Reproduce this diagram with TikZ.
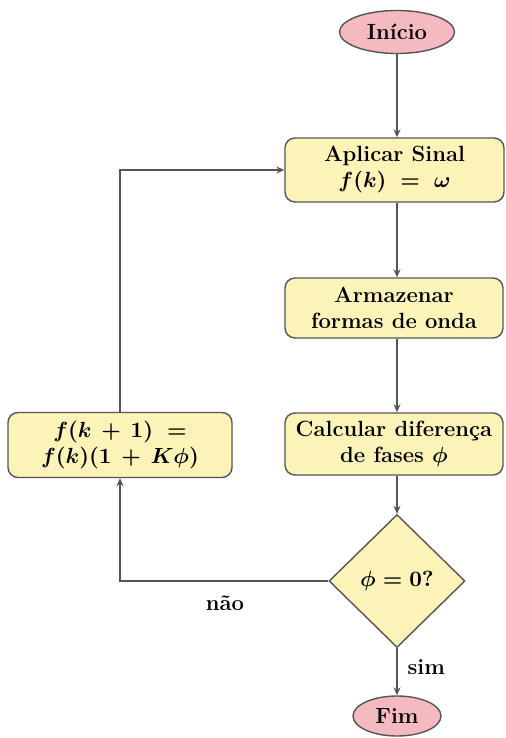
\documentclass[tikz,border=0pt]{standalone}
\usetikzlibrary{shapes.geometric,arrows.meta}
\definecolor{boxfill}{HTML}{FCF3B8}
\definecolor{termfill}{HTML}{F5B9C0}
\definecolor{edge}{HTML}{555555}
\begin{document}
\begin{tikzpicture}[x=0.5pt,y=-0.5pt,
  font=\fontsize{11}{13}\selectfont\bfseries\boldmath,
  procbox/.style={draw=edge, line width=0.7pt, fill=boxfill, rounded corners=5pt, align=center, inner sep=1pt},
  term/.style={draw=edge, line width=0.7pt, fill=termfill, ellipse, inner sep=0pt},
  decis/.style={draw=edge, line width=0.7pt, fill=boxfill, diamond, inner sep=0pt, minimum width=68pt, minimum height=66.5pt},
  conn/.style={draw=edge, line width=0.7pt, -{Stealth[length=4pt,width=3.5pt]}},
  lbl/.style={inner sep=0pt}]
\useasboundingbox (0,0) rectangle (505,738);
\node[term, minimum width=57.5pt, minimum height=21.5pt] (ini) at (397,32) {Início};
\node[procbox, minimum width=109.5pt, minimum height=32pt] (apl) at (394.5,170) {Aplicar Sinal\\$f(k)\;=\;\omega$};
\node[procbox, minimum width=109pt, minimum height=30pt] (arm) at (394,308) {Armazenar\\formas de onda};
\node[procbox, minimum width=109pt, minimum height=31pt] (calc) at (394,444) {Calcular diferença\\de fases $\phi$};
\node[decis] (dec) at (397,581) {$\phi=0?$};
\node[term, minimum width=44pt, minimum height=20pt] (fim) at (397,716) {Fim};
\node[procbox, minimum width=112pt, minimum height=32.5pt] (upd) at (120,445) {$f(k\,+\,1)\;=$\\$f(k)(1\,+\,K\phi)$};
\draw[conn] (ini) -- (ini |- apl.north);
\draw[conn] (apl.south -| ini) -- (arm.north -| ini);
\draw[conn] (arm.south -| ini) -- (calc.north -| ini);
\draw[conn] (calc.south -| dec) -- (dec.north);
\draw[conn] (dec.south) -- node[lbl, right=5pt, pos=0.4] (sim) {sim} (fim.north);
\draw[conn] (dec.west) -| (upd.south);
\node[lbl] (nao) at (225,603) {não};
\draw[conn] (upd.north) |- (apl.west);
\end{tikzpicture}
\end{document}
